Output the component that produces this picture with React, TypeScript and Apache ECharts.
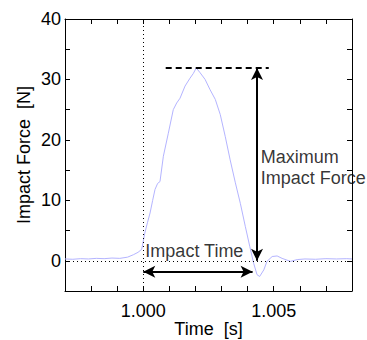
import React, { useEffect, useRef } from "react";
import * as echarts from "echarts";

// time in ms (1000 = 1.000 s)
const timeMs = [
  997.0, 997.3, 997.6, 997.9, 998.2, 998.5, 998.8, 999.1, 999.4, 999.62, 999.8, 999.94,
  1000.06, 1000.16, 1000.26, 1000.36, 1000.45, 1000.55, 1000.64, 1000.77, 1000.96, 1001.15,
  1001.28, 1001.41, 1001.6, 1001.79, 1001.92, 1002.03, 1002.18, 1002.37, 1002.56, 1002.76,
  1002.95, 1003.14, 1003.33, 1003.53, 1003.72, 1003.91, 1004.08, 1004.23, 1004.36, 1004.46,
  1004.62, 1004.74, 1004.94, 1005.13, 1005.32, 1005.64, 1005.9, 1006.2, 1006.6, 1007.0,
  1007.4, 1007.8, 1008.0,
];
const forceN = [
  0.3, 0.25, 0.35, 0.3, 0.4, 0.35, 0.45, 0.4, 0.6, 1.0, 1.4, 1.9,
  4.6, 6.3, 7.9, 10.0, 11.8, 12.8, 13.1, 17.3, 21.1, 25.0,
  26.1, 26.9, 28.9, 30.2, 31.0, 31.9, 31.1, 30.0, 28.3, 26.7,
  24.2, 20.6, 16.7, 12.9, 9.5, 5.7, 2.4, -0.4, -2.3, -2.6,
  -1.5, -0.1, 0.7, 0.8, 0.4, -0.1, 0.2, 0.3, 0.25, 0.35,
  0.3, 0.35, 0.3,
];

const xLabelTicks = [1000, 1005];
const yLabelTicks = [0, 10, 20, 30, 40];

const maxForce = 31.9;
const impactStart = 1000;
const impactEnd = 1004.19;
const impactArrowY = -1.8;
const maxArrowX = 1004.36;
const dashStart = 1000.86;
const dashEnd = 1004.81;

const FONT = "Liberation Sans, Arial, sans-serif";

export default function App() {
  const ref = useRef<HTMLDivElement>(null);
  useEffect(() => {
    if (!ref.current) return;
    const chart = echarts.init(ref.current, null, { renderer: "svg" });
    const data = timeMs.map((t, i) => [t, forceN[i]]);
    const xCommon = {
      type: "value",
      min: 997,
      max: 1008,
      interval: 1,
      axisLine: { show: true, onZero: false, lineStyle: { color: "#000", width: 1 } },
      axisTick: { show: true, inside: true, length: 5, lineStyle: { color: "#000" } },
      splitLine: { show: false },
    };
    const yCommon = {
      type: "value",
      min: -5,
      max: 40,
      interval: 5,
      axisLine: { show: true, onZero: false, lineStyle: { color: "#000", width: 1 } },
      axisTick: { show: true, inside: true, length: 5, lineStyle: { color: "#000" } },
      splitLine: { show: false },
    };
    chart.setOption({
      animation: false,
      grid: {
        left: 65,
        right: 15,
        top: 19,
        bottom: 49,
        containLabel: false,
        outerBoundsMode: "none",
      },
      xAxis: [
        {
          ...xCommon,
          position: "bottom",
          name: "Time  [s]",
          nameLocation: "middle",
          nameGap: 29,
          nameMoveOverlap: false,
          nameTextStyle: { color: "#000", fontSize: 18, lineHeight: 18, fontFamily: FONT },
          axisLabel: {
            color: "#000",
            fontSize: 18,
            fontFamily: FONT,
            margin: 11,
            formatter: (v: number) =>
              xLabelTicks.some((t) => Math.abs(t - v) < 1e-6) ? (v / 1000).toFixed(3) : "",
          },
        },
        { ...xCommon, position: "top", axisLabel: { show: false } },
      ],
      yAxis: [
        {
          ...yCommon,
          position: "left",
          name: "Impact Force  [N]",
          nameLocation: "middle",
          nameGap: 32,
          nameMoveOverlap: false,
          nameTextStyle: { color: "#000", fontSize: 18, fontFamily: FONT },
          axisLabel: {
            color: "#000",
            fontSize: 18,
            fontFamily: FONT,
            margin: 4,
            formatter: (v: number) =>
              yLabelTicks.some((t) => Math.abs(t - v) < 1e-6) ? String(v) : "",
          },
        },
        { ...yCommon, position: "right", axisLabel: { show: false } },
      ],
      series: [
        {
          type: "line",
          data,
          symbol: "none",
          smooth: false,
          lineStyle: { color: "#b4b4ff", width: 1 },
          z: 3,
          markLine: {
            silent: true,
            symbol: "none",
            label: { show: false },
            data: [
              { xAxis: impactStart, lineStyle: { color: "#000", type: [1, 3], width: 1 } },
              { yAxis: 0, lineStyle: { color: "#000", type: [1, 3], width: 1 } },
              [
                { coord: [dashStart, maxForce], lineStyle: { color: "#000", type: [6, 4], width: 2 } },
                { coord: [dashEnd, maxForce] },
              ],
            ],
          },
        },
        {
          type: "line",
          data: [],
          markLine: {
            silent: true,
            symbol: ["arrow", "arrow"],
            symbolSize: [9, 12],
            label: { show: false },
            lineStyle: { color: "#000", type: "solid", width: 2 },
            data: [
              [{ coord: [maxArrowX, maxForce] }, { coord: [maxArrowX, 0] }],
              [{ coord: [impactStart, impactArrowY] }, { coord: [impactEnd, impactArrowY] }],
            ],
          },
        },
        {
          type: "scatter",
          data: [
            { value: [1000.08, -0.2], label: { formatter: "Impact Time" } },
            { value: [1004.5, 12.0], label: { formatter: "Maximum\nImpact Force" } },
          ],
          symbolSize: 0,
          silent: true,
          label: {
            show: true,
            position: "right",
            distance: 0,
            align: "left",
            verticalAlign: "bottom",
            color: "#000",
            fontSize: 18,
            lineHeight: 21,
            fontFamily: FONT,
          },
        },
      ],
    });
    return () => chart.dispose();
  }, []);
  return (
    <div
      ref={ref}
      style={{ position: "absolute", left: 0, top: 0, width: 367, height: 340 }}
    />
  );
}
